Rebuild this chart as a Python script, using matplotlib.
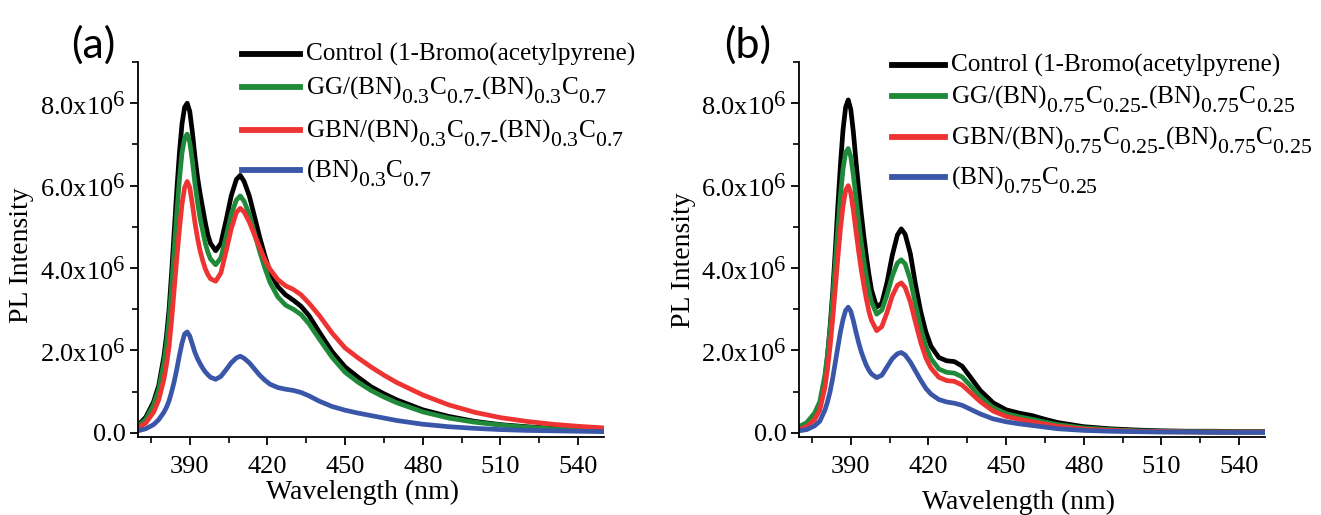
import matplotlib
matplotlib.use("Agg")
import matplotlib.pyplot as plt
import matplotlib._mathtext as mathtext_mod
from matplotlib.lines import Line2D
from matplotlib.ticker import MultipleLocator, FuncFormatter

plt.rcParams['font.family'] = ['Liberation Serif', 'DejaVu Serif']
plt.rcParams['mathtext.default'] = 'regular'
# subscripts in the original are big and sit well below the baseline
mathtext_mod.SHRINK_FACTOR = 0.86
mathtext_mod.FontConstantsBase.sub1 = 0.8

# wavelength grid (nm) shared by all curves
wavelength = [370, 373, 376, 378, 380, 381, 382, 383, 384, 385, 386, 387, 388, 389, 390, 391,
              392, 393, 394, 395, 396, 397, 398, 400, 402, 404, 406, 408, 409.5, 411, 413, 415,
              417, 419, 421, 424, 427, 430, 433, 436, 440, 445, 450, 455, 460, 465, 470, 480,
              490, 500, 510, 520, 530, 540, 550]

# panel (a) intensities, in units of 1e6
a_control = [0.18, 0.38, 0.75, 1.15, 1.85, 2.35, 3.0, 3.9, 4.9, 5.9, 6.8, 7.5, 7.9, 8.0, 7.8, 7.3,
             6.7, 6.2, 5.8, 5.45, 5.1, 4.8, 4.6, 4.42, 4.6, 5.15, 5.75, 6.15, 6.25, 6.1, 5.75, 5.25,
             4.75, 4.3, 3.9, 3.55, 3.35, 3.22, 3.07, 2.85, 2.45, 1.97, 1.6, 1.35, 1.12, 0.95, 0.8, 0.56,
             0.4, 0.28, 0.2, 0.15, 0.11, 0.08, 0.06]
a_gg = [0.15, 0.33, 0.68, 1.05, 1.7, 2.15, 2.75, 3.55, 4.45, 5.35, 6.15, 6.8, 7.15, 7.25, 7.05, 6.6,
        6.05, 5.6, 5.2, 4.9, 4.6, 4.38, 4.22, 4.08, 4.25, 4.75, 5.3, 5.65, 5.75, 5.62, 5.3, 4.85,
        4.4, 4.0, 3.65, 3.3, 3.1, 3.0, 2.87, 2.65, 2.28, 1.83, 1.47, 1.23, 1.03, 0.87, 0.73, 0.51,
        0.36, 0.26, 0.19, 0.14, 0.1, 0.08, 0.06]
a_gbn = [0.12, 0.24, 0.5, 0.8, 1.3, 1.65, 2.1, 2.75, 3.5, 4.25, 4.95, 5.55, 5.95, 6.1, 5.95, 5.55,
         5.1, 4.72, 4.42, 4.18, 3.98, 3.84, 3.74, 3.68, 3.88, 4.4, 4.95, 5.35, 5.45, 5.36, 5.12, 4.8,
         4.5, 4.2, 3.97, 3.72, 3.57, 3.48, 3.35, 3.15, 2.85, 2.42, 2.06, 1.82, 1.6, 1.4, 1.22, 0.92,
         0.68, 0.5, 0.37, 0.28, 0.21, 0.16, 0.12]
a_bn = [0.05, 0.1, 0.2, 0.32, 0.5, 0.62, 0.78, 1.0, 1.25, 1.55, 1.88, 2.18, 2.4, 2.45, 2.35, 2.15,
        1.95, 1.8, 1.68, 1.57, 1.48, 1.41, 1.35, 1.3, 1.37, 1.53, 1.7, 1.82, 1.86, 1.81, 1.7, 1.55,
        1.4, 1.28, 1.18, 1.1, 1.06, 1.03, 0.98, 0.9, 0.77, 0.64, 0.55, 0.48, 0.42, 0.36, 0.3, 0.21,
        0.15, 0.11, 0.08, 0.06, 0.05, 0.04, 0.03]

# panel (b) intensities, in units of 1e6
b_control = [0.12, 0.2, 0.4, 0.63, 1.3, 1.85, 2.57, 3.4, 4.4, 5.5, 6.5, 7.35, 7.9, 8.08, 7.85, 7.3,
             6.6, 5.95, 5.35, 4.8, 4.3, 3.85, 3.47, 3.05, 3.15, 3.65, 4.3, 4.8, 4.95, 4.82, 4.35, 3.6,
             2.95, 2.45, 2.1, 1.83, 1.75, 1.73, 1.62, 1.37, 1.03, 0.73, 0.56, 0.48, 0.42, 0.33, 0.25, 0.15,
             0.1, 0.07, 0.05, 0.04, 0.04, 0.03, 0.03]
b_gg = [0.15, 0.25, 0.48, 0.75, 1.4, 1.9, 2.5, 3.25, 4.1, 4.95, 5.75, 6.4, 6.8, 6.9, 6.7, 6.25,
        5.7, 5.15, 4.65, 4.2, 3.8, 3.45, 3.18, 2.88, 2.98, 3.35, 3.8, 4.12, 4.2, 4.1, 3.72, 3.12,
        2.55, 2.1, 1.8, 1.55, 1.47, 1.45, 1.36, 1.16, 0.88, 0.61, 0.47, 0.39, 0.33, 0.26, 0.2, 0.12,
        0.08, 0.05, 0.04, 0.03, 0.03, 0.02, 0.02]
b_gbn = [0.08, 0.15, 0.32, 0.55, 1.1, 1.55, 2.1, 2.75, 3.5, 4.25, 4.95, 5.5, 5.88, 6.0, 5.82, 5.4,
         4.9, 4.42, 3.98, 3.6, 3.25, 2.95, 2.73, 2.48, 2.58, 2.92, 3.32, 3.58, 3.64, 3.53, 3.18, 2.68,
         2.2, 1.82, 1.57, 1.35, 1.27, 1.25, 1.16, 0.99, 0.76, 0.53, 0.4, 0.33, 0.27, 0.21, 0.16, 0.09,
         0.06, 0.04, 0.03, 0.02, 0.02, 0.02, 0.02]
b_bn = [0.05, 0.08, 0.17, 0.28, 0.55, 0.75, 1.0, 1.32, 1.7, 2.08, 2.45, 2.75, 2.97, 3.05, 2.95, 2.72,
        2.45, 2.2, 1.98, 1.8, 1.64, 1.52, 1.43, 1.34, 1.4, 1.6, 1.8, 1.92, 1.95, 1.89, 1.72, 1.5,
        1.28, 1.08, 0.94, 0.81, 0.75, 0.72, 0.67, 0.58, 0.46, 0.34, 0.27, 0.22, 0.18, 0.14, 0.1, 0.06,
        0.04, 0.03, 0.02, 0.02, 0.01, 0.01, 0.01]

hy = "\u2010"
labels_a = ["Control (1-Bromo(acetylpyrene)",
            "GG/(BN)$_{0.3}$C$_{0.7" + hy + "}$(BN)$_{0.3}$C$_{0.7}$",
            "GBN/(BN)$_{0.3}$C$_{0.7" + hy + "}$(BN)$_{0.3}$C$_{0.7}$",
            "(BN)$_{0.3}$C$_{0.7}$"]
labels_b = ["Control (1-Bromo(acetylpyrene)",
            "GG/(BN)$_{0.75}$C$_{0.25" + hy + "}$(BN)$_{0.75}$C$_{0.25}$",
            "GBN/(BN)$_{0.75}$C$_{0.25" + hy + "}$(BN)$_{0.75}$C$_{0.25}$",
            "(BN)$_{0.75}$C$_{0.25}$"]

colors = ['#000000', '#1f8a3a', '#ee3333', '#3a56a8']

W, H = 1321, 515


def fx(px):
    return px / W


def fy(py):
    return 1 - py / H


def tick_fmt(v, pos):
    if abs(v) < 1:
        return "0.0"
    return "%.1fx10$^{6}$" % (v / 1e6)


fig = plt.figure(figsize=(W / 100, H / 100), dpi=100)


def make_panel(left, right, series, labels, tag, tag_x, leg_x0, leg_x1, leg_y,
               xlab_pos, ylab_pos):
    ax = fig.add_axes([fx(left), fy(437), fx(right - left), (437 - 62) / H])
    for ys, c in zip(series, colors):
        ax.plot(wavelength, [v * 1e6 for v in ys], color=c, lw=3.4,
                solid_capstyle='round', solid_joinstyle='round')
    ax.set_xlim(370, 550)
    ax.set_ylim(-0.1e6, 9.0e6)
    ax.spines['top'].set_visible(False)
    ax.spines['right'].set_visible(False)
    for s in ['left', 'bottom']:
        ax.spines[s].set_linewidth(1.3)
    ax.xaxis.set_minor_locator(MultipleLocator(15))
    ax.set_xticks(range(390, 541, 30))
    ax.yaxis.set_major_locator(MultipleLocator(2e6))
    ax.yaxis.set_minor_locator(MultipleLocator(1e6))
    ax.yaxis.set_major_formatter(FuncFormatter(tick_fmt))
    ax.tick_params(which='major', direction='out', length=6, width=1.3, labelsize=19, pad=3)
    ax.tick_params(which='minor', direction='out', length=4, width=1.2)
    ax.tick_params(axis='x', which='major', pad=8)

    fig.text(fx(xlab_pos[0]), fy(xlab_pos[1]), "Wavelength (nm)", fontsize=20,
             ha='center', va='center')
    fig.text(fx(ylab_pos[0]), fy(ylab_pos[1]), "PL Intensity", fontsize=20,
             ha='center', va='center', rotation=90)
    fig.text(fx(tag_x), fy(45), tag, fontsize=31, family=['Lato', 'DejaVu Sans'],
             ha='center', va='center')

    # legend drawn by hand to keep the uneven row spacing
    for lab, c, y in zip(labels, colors, leg_y):
        fig.add_artist(Line2D([fx(leg_x0), fx(leg_x1)], [fy(y), fy(y)], color=c, lw=4.2,
                              transform=fig.transFigure))
        fig.text(fx(leg_x1 + 6), fy(y + 7), lab, fontsize=18.2, ha='left', va='baseline')
    return ax


ax_a = make_panel(138, 604, [a_control, a_gg, a_gbn, a_bn], labels_a, "(a)", 93,
                  242, 300, [54, 87, 130, 170], (363, 492), (22, 255))
ax_b = make_panel(799, 1265, [b_control, b_gg, b_gbn, b_bn], labels_b, "(b)", 748,
                  892, 945, [65, 96, 137, 177], (1018, 502), (683, 260))

fig.savefig("out.png", dpi=100)
